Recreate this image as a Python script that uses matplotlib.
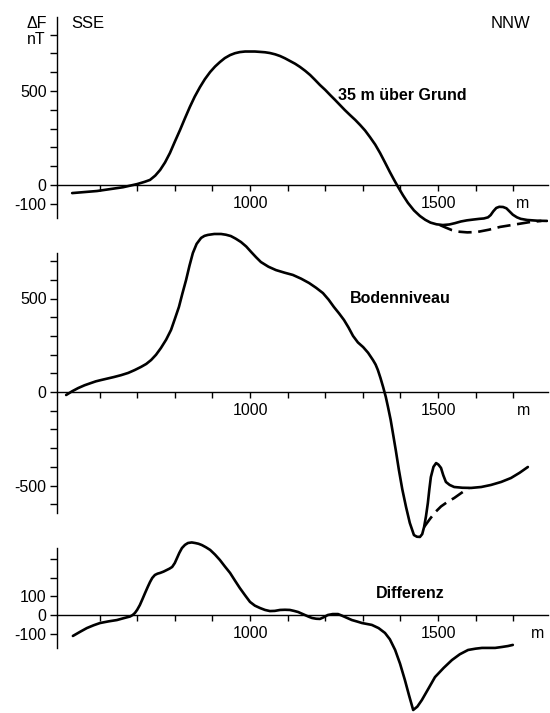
import matplotlib
matplotlib.use("Agg")
import matplotlib.pyplot as plt

plt.rcParams['font.family'] = ['Liberation Sans', 'DejaVu Sans']

# ---------------- data ----------------
# Panel 1: 35 m above ground
m35_x = [527, 593, 662, 700, 720, 734, 748, 761, 774, 787, 800, 814, 827, 840, 853, 867,
         880, 894, 907, 920, 933, 947, 960, 973, 987, 1000,
         1013, 1027, 1040, 1053, 1067, 1080, 1093, 1106, 1120, 1133, 1147, 1160, 1173,
         1186, 1200, 1213, 1226, 1239, 1252, 1266, 1280, 1293, 1306, 1319, 1333, 1346,
         1359, 1372, 1383, 1394, 1407, 1420, 1436, 1452, 1466, 1480, 1496, 1513, 1530,
         1545, 1561, 1577, 1593, 1610, 1622, 1633, 1640, 1647, 1655, 1663, 1673,
         1682, 1690, 1699, 1710, 1720, 1737, 1765, 1790]
m35_y = [-43, -32, -12, 5, 17, 27, 50, 80, 120, 170, 230, 293, 355, 415, 470, 521,
         563, 601, 630, 654, 675, 691, 701, 707, 710, 710,
         710, 708, 706, 702, 695, 686, 674, 660, 645, 628, 607, 585, 559,
         532, 506, 479, 453, 426, 399, 372, 346, 319, 290, 255, 215, 170,
         120, 69, 28, -11, -55, -95, -135, -165, -185, -200, -209, -213, -210,
         -203, -194, -188, -184, -180, -178, -172, -160, -140, -122, -116, -117,
         -124, -140, -158, -172, -180, -186, -190, -191]
m35_dash_x = [1505, 1520, 1537, 1553, 1578, 1604, 1635, 1665, 1705, 1745, 1775]
m35_dash_y = [-213, -226, -240, -248, -252, -250, -238, -223, -210, -197, -191]

# Panel 2: ground level
gnd_x = [511, 527, 543, 560, 577, 590, 604, 621, 638, 657, 676, 693, 710, 724, 737,
         750, 763, 777, 790, 800, 811, 820, 830, 839, 848, 858, 870, 879, 888,
         905, 923, 936, 949, 962, 976, 990, 1003, 1016, 1029, 1049, 1069, 1092, 1114,
         1136, 1157, 1176, 1194, 1209, 1223, 1237, 1250, 1262, 1274, 1287, 1301, 1314,
         1327, 1334, 1340, 1347, 1354, 1361, 1367, 1374, 1380, 1388, 1396, 1405, 1415,
         1425, 1436, 1444, 1452, 1458, 1463, 1468, 1473, 1477, 1481, 1488, 1495, 1501,
         1508, 1514, 1521, 1531, 1543, 1565, 1588, 1615, 1641, 1668, 1694, 1717, 1739]
gnd_y = [-16, 4, 21, 36, 48, 57, 64, 72, 80, 90, 102, 117, 134, 150, 171,
         199, 235, 280, 332, 390, 455, 525, 599, 675, 743, 792, 824, 835, 840,
         845, 845, 841, 834, 820, 802, 778, 749, 721, 695, 670, 652, 638, 626,
         606, 583, 557, 529, 494, 455, 420, 385, 345, 300, 265, 240, 210,
         171, 147, 118, 75, 27, -25, -80, -148, -219, -315, -417, -520, -615,
         -700, -765, -774, -775, -760, -722, -665, -594, -520, -455, -400, -380, -388,
         -406, -445, -481, -497, -508, -512, -513, -508, -497, -481, -460, -432, -401]
gnd_dash_x = [1463, 1472, 1480, 1494, 1508, 1525, 1543, 1562, 1582]
gnd_dash_y = [-722, -697, -675, -640, -612, -588, -567, -540, -513]

# Panel 3: difference
dif_x = [529, 548, 566, 584, 601, 624, 646, 664, 681, 688, 694, 700, 707, 714, 721,
         728, 734, 740, 747, 754, 761, 770, 779, 786, 793, 800, 806, 812, 819,
         827, 835, 845, 854, 863, 872, 883, 894, 907, 920, 933, 947, 960, 973, 987,
         1000, 1013, 1027, 1040, 1053, 1066, 1080, 1093, 1106, 1117, 1128, 1137, 1146,
         1156, 1165, 1176, 1186, 1196, 1207, 1220, 1234, 1244, 1253, 1262, 1271, 1285,
         1298, 1311, 1324, 1342, 1359, 1372, 1386, 1399, 1412, 1423, 1434, 1445, 1457,
         1475, 1492, 1515, 1537, 1558, 1580, 1600, 1617, 1635, 1652, 1670, 1686, 1699]
dif_y = [-112, -90, -70, -55, -43, -34, -27, -17, -8, 0, 11, 28, 53, 85, 118,
         150, 176, 198, 214, 221, 225, 232, 241, 248, 257, 278, 305, 332, 358,
         375, 385, 388, 385, 381, 374, 362, 348, 323, 294, 260, 225, 184, 144, 105,
         70, 50, 37, 27, 21, 22, 27, 28, 27, 22, 16, 8, 0,
         -9, -16, -20, -21, -12, 0, 5, 5, -3, -11, -19, -27, -35,
         -43, -48, -53, -70, -96, -130, -187, -260, -348, -430, -508, -490, -455,
         -392, -332, -283, -241, -210, -187, -180, -176, -176, -176, -171, -166, -160]

x_ticks = [600, 700, 800, 900, 1000, 1100, 1200, 1300, 1400, 1500, 1600, 1700]
x_labelled = {1000: "1000", 1500: "1500"}

# ---------------- layout helpers ----------------
W, H = 550, 713
fig = plt.figure(figsize=(W / 100, H / 100), dpi=100)

PX_PER_M = 0.376
X_REF_PX, X_REF_M = 250, 1000
X_LEFT_PX, X_RIGHT_PX = 57, 548
xlim = (X_REF_M + (X_LEFT_PX - X_REF_PX) / PX_PER_M,
        X_REF_M + (X_RIGHT_PX - X_REF_PX) / PX_PER_M)

LW = 1.9
AX_LW = 1.0


def make_axes(top_px, bot_px, zero_px, scale, spine_top_px, spine_bot_px,
              yticks, ylabels):
    ax = fig.add_axes([X_LEFT_PX / W, 1 - bot_px / H,
                       (X_RIGHT_PX - X_LEFT_PX) / W, (bot_px - top_px) / H])
    ax.patch.set_visible(False)
    ax.set_xlim(*xlim)
    ax.set_ylim((zero_px - bot_px) / scale, (zero_px - top_px) / scale)
    for s in ("top", "right"):
        ax.spines[s].set_visible(False)
    ax.spines["bottom"].set_position(("data", 0))
    ax.spines["left"].set_bounds((zero_px - spine_bot_px) / scale,
                                 (zero_px - spine_top_px) / scale)
    for s in ("bottom", "left"):
        ax.spines[s].set_linewidth(AX_LW)
    ax.set_xticks(x_ticks)
    ax.set_xticklabels([])
    ax.tick_params(axis="x", direction="out", length=4, width=AX_LW)
    ax.set_yticks(yticks)
    ax.set_yticklabels([ylabels.get(t, "") for t in yticks])
    ax.tick_params(axis="y", direction="out", length=5, width=AX_LW,
                   pad=2.5, labelsize=11.5)
    for t, lab in x_labelled.items():
        ax.annotate(lab, xy=(t, 0), xytext=(0, -13), textcoords="offset points",
                    ha="center", va="center", fontsize=11.5)
    return ax


# Panel 1
ax1 = make_axes(15, 240, 185, 0.188, 17, 218,
                list(range(-100, 801, 100)), {-100: "-100", 0: "0", 500: "500"})
ax1.plot(m35_x, m35_y, color="black", lw=LW, solid_joinstyle="round",
         solid_capstyle="round")
ax1.plot(m35_dash_x, m35_dash_y, color="black", lw=LW, dashes=(5, 2.5))
ax1.annotate("m", xy=(1725, 0), xytext=(0, -13), textcoords="offset points",
             ha="center", va="center", fontsize=11.5)

# Panel 2
ax2 = make_axes(225, 545, 392, 0.187, 253, 513,
                list(range(-600, 701, 100)), {-500: "-500", 0: "0", 500: "500"})
ax2.plot(gnd_x, gnd_y, color="black", lw=LW, solid_joinstyle="round",
         solid_capstyle="round")
ax2.plot(gnd_dash_x, gnd_dash_y, color="black", lw=LW, dashes=(5, 2.5))
ax2.annotate("m", xy=(1728, 0), xytext=(0, -13), textcoords="offset points",
             ha="center", va="center", fontsize=11.5)

# Panel 3
ax3 = make_axes(540, 713, 615, 0.187, 548, 648,
                list(range(-100, 301, 100)), {-100: "-100", 0: "0", 100: "100"})
ax3.plot(dif_x, dif_y, color="black", lw=LW, solid_joinstyle="round",
         solid_capstyle="round", clip_on=False)
ax3.annotate("m", xy=(1765, 0), xytext=(0, -13), textcoords="offset points",
             ha="center", va="center", fontsize=11.5)


def ftext(px, py, s, **kw):
    fig.text(px / W, 1 - py / H, s, **kw)


ftext(37, 23, "ΔF", ha="center", va="center", fontsize=11.5)
ftext(36, 40, "nT", ha="center", va="center", fontsize=11.5)
ftext(88, 23, "SSE", ha="center", va="center", fontsize=12)
ftext(510, 23, "NNW", ha="center", va="center", fontsize=12)
ftext(402, 96, "35 m über Grund", ha="center", va="center", fontsize=11.5,
      fontweight="bold")
ftext(400, 298, "Bodenniveau", ha="center", va="center", fontsize=11.5,
      fontweight="bold")
ftext(410, 594, "Differenz", ha="center", va="center", fontsize=11.5,
      fontweight="bold")

fig.savefig("out.png", dpi=100)
